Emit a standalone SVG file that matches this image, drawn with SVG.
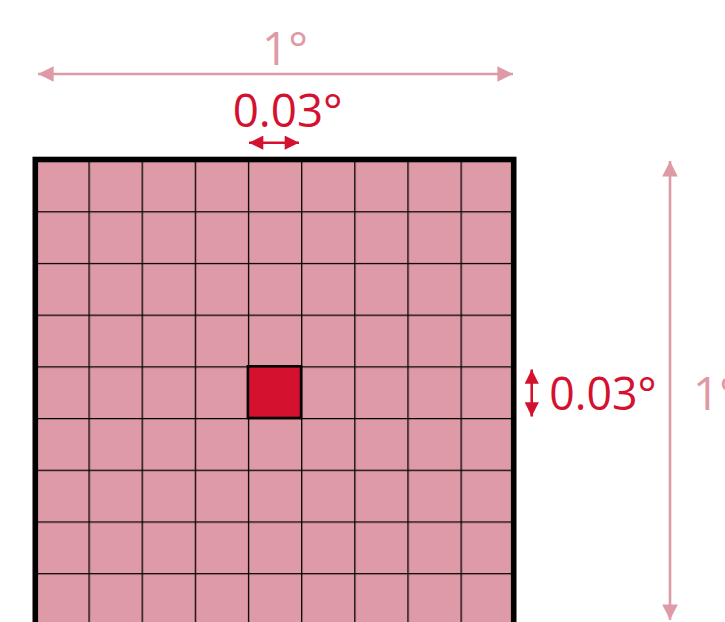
<svg xmlns="http://www.w3.org/2000/svg" width="725" height="622" viewBox="0 0 725 622">
<style>
.cell{fill:#DE9AA7;stroke:#000;stroke-width:1.3}
.pinkline{stroke:#DE9AA7;stroke-width:2.6;fill:none}
.redline{stroke:#D51130;stroke-width:2.6;fill:none}
.pinktxt{fill:#DE9AA7;font-family:"Open Sans","Noto Sans",sans-serif;font-size:46px}
.redtxt{fill:#D51130;font-family:"Open Sans","Noto Sans",sans-serif;font-size:46px}
</style>
<defs>
<marker id="ap" viewBox="0 0 10 10" refX="10" refY="5" markerWidth="6" markerHeight="6" orient="auto-start-reverse" markerUnits="strokeWidth"><path d="M0,0 L10,5 L0,10 Z" fill="#DE9AA7"/></marker>
<marker id="ar" viewBox="0 0 10 10" refX="10" refY="5" markerWidth="6" markerHeight="5.5" orient="auto-start-reverse" markerUnits="strokeWidth"><path d="M0,0 L10,5 L0,10 Z" fill="#D51130"/></marker>
<pattern id="gridp" x="35.3" y="159.5" width="53.15" height="51.7" patternUnits="userSpaceOnUse">
<rect x="0" y="0" width="53.15" height="51.7" fill="#DE9AA7"/>
<path d="M0,0 V51.7 M0,0 H53.15" stroke="#000" stroke-width="2.6" fill="none"/>
</pattern>
</defs>
<g id="grid">
<rect x="35.3" y="159.5" width="478.4" height="465.3" fill="url(#gridp)"/>
<rect id="outer" x="35.3" y="159.5" width="478.4" height="465.3" fill="none" stroke="#000" stroke-width="5.6"/>
</g>
<g id="cell-highlight">
<rect x="247.9" y="366.3" width="53.15" height="51.7" fill="#D51130" stroke="#000" stroke-width="2.6"/>
</g>
<g id="connectors">
<line class="pinkline" x1="38" y1="74" x2="513" y2="74" marker-start="url(#ap)" marker-end="url(#ap)"/>
<line class="pinkline" x1="670" y1="161" x2="670" y2="620" marker-start="url(#ap)" marker-end="url(#ap)"/>
<line class="redline" x1="249" y1="142.7" x2="299" y2="142.7" marker-start="url(#ar)" marker-end="url(#ar)"/>
<line class="redline" x1="531.7" y1="369.5" x2="531.7" y2="416.5" marker-start="url(#ar)" marker-end="url(#ar)"/>
</g>
<g id="labels">
<text class="pinktxt" x="285" y="65" text-anchor="middle">1°</text>
<text class="redtxt" x="232.7" y="127.3" textLength="110" lengthAdjust="spacingAndGlyphs">0.03°</text>
<text class="redtxt" x="549.3" y="410" textLength="107.4" lengthAdjust="spacingAndGlyphs">0.03°</text>
<text class="pinktxt" x="693" y="410">1°</text>
</g>
</svg>
